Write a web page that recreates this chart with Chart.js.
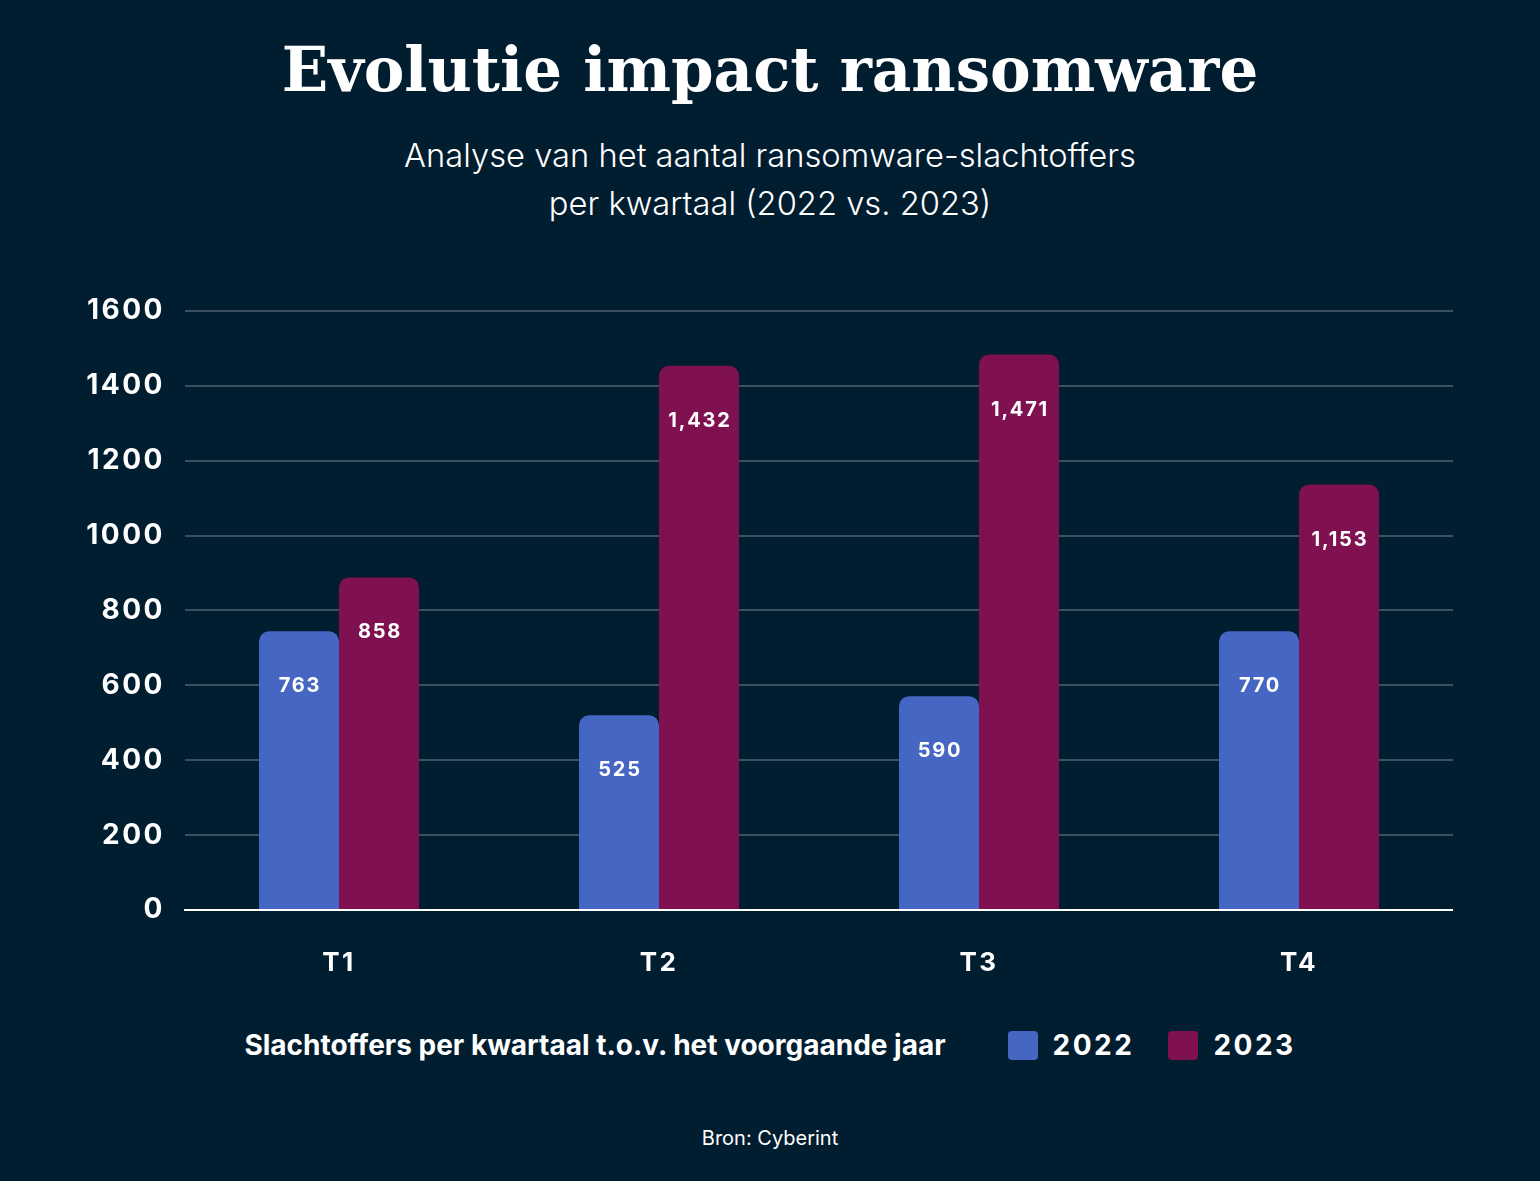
<!DOCTYPE html>
<html>
<head>
<meta charset="utf-8">
<script src="https://cdn.jsdelivr.net/npm/chart.js@4"></script>
<style>
  html, body { margin:0; padding:0; background:#011d30; }
  body { width:1540px; height:1181px; position:relative; overflow:hidden; font-family: Inter, "Noto Sans", sans-serif; color:#fff; }
  #title { position:absolute; left:0; width:1540px; top:25px; text-align:center; font-family:"DejaVu Serif", serif; font-weight:bold; font-size:61px; line-height:90px; }
  #subtitle { position:absolute; left:0; width:1540px; top:131px; text-align:center; font-weight:300; font-size:32.7px; line-height:48px; }
  #chartwrap { position:absolute; left:0; top:280px; width:1540px; height:711px; }
  #legend { position:absolute; left:0; width:1540px; top:1022px; height:46px; display:flex; justify-content:center; align-items:center; }
  #legend .ltitle { font-weight:700; font-size:28px; margin-right:62px; }
  #legend .item { display:flex; align-items:center; margin-right:34px; }
  #legend .item:last-child { margin-right:0; }
  #legend .box { width:30px; height:29px; border-radius:4px; margin-right:15px; }
  #legend .lbl { font-weight:700; font-size:28px; letter-spacing:2.5px; }
  #source { position:absolute; left:0; width:1540px; top:1126px; text-align:center; font-size:20px; line-height:24px; font-weight:400; }
</style>
</head>
<body>
<div id="title"></div>
<div id="subtitle"></div>
<div id="chartwrap"><canvas id="c"></canvas></div>
<div id="legend"></div>
<div id="source"></div>
<script>
// ---- data ----
const titleText = "Evolutie impact ransomware";
const subtitleLines = ["Analyse van het aantal ransomware-slachtoffers", "per kwartaal (2022 vs. 2023)"];
const legendTitle = "Slachtoffers per kwartaal t.o.v. het voorgaande jaar";
const sourceText = "Bron: Cyberint";
const categories = ["T1", "T2", "T3", "T4"];
const seriesNames = ["2022", "2023"];
// bar heights as drawn in the picture
const values2022 = [744, 520, 571, 744];
const values2023 = [888, 1453, 1483, 1136];
// value labels printed on the bars
const labels2022 = ["763", "525", "590", "770"];
const labels2023 = ["858", "1,432", "1,471", "1,153"];
const yTicks = [0, 200, 400, 600, 800, 1000, 1200, 1400, 1600];

const colors = ["#4666c3", "#7f1150"];

document.getElementById('title').textContent = titleText;
document.getElementById('subtitle').innerHTML = subtitleLines.map(s => s.replace(/&/g,'&amp;')).join('<br>');
document.getElementById('source').textContent = sourceText;

// grid lines drawn slightly inset from the category band
const gridPlugin = {
  id: 'insetGrid',
  beforeDatasetsDraw(chart) {
    const ctx = chart.ctx, ys = chart.scales.y, a = chart.chartArea;
    ctx.save();
    ctx.lineWidth = 2;
    ctx.strokeStyle = '#3a5062';
    yTicks.forEach(v => {
      if (v === 0) return;
      const y = Math.round(ys.getPixelForValue(v));
      ctx.beginPath(); ctx.moveTo(a.left + 6, y); ctx.lineTo(a.right - 6, y); ctx.stroke();
    });
    ctx.restore();
  },
  afterDatasetsDraw(chart) {
    const ctx = chart.ctx, ys = chart.scales.y, a = chart.chartArea;
    const y = Math.round(ys.getPixelForValue(0));
    ctx.save();
    ctx.lineWidth = 2;
    ctx.strokeStyle = '#ffffff';
    ctx.beginPath(); ctx.moveTo(a.left + 5, y); ctx.lineTo(a.right - 6, y); ctx.stroke();
    ctx.restore();
  }
};

const barLabelPlugin = {
  id: 'barLabels',
  afterDatasetsDraw(chart) {
    const ctx = chart.ctx;
    const texts = [labels2022, labels2023];
    ctx.save();
    ctx.fillStyle = '#ffffff';
    ctx.font = '700 20px Inter';
    ctx.letterSpacing = '1.8px';
    ctx.textAlign = 'center';
    ctx.textBaseline = 'middle';
    chart.data.datasets.forEach((ds, di) => {
      const meta = chart.getDatasetMeta(di);
      meta.data.forEach((bar, i) => {
        ctx.fillText(texts[di][i], bar.x + 1, bar.y + 55);
      });
    });
    ctx.restore();
  }
};

const spacingPlugin = {
  id: 'spacing',
  beforeLayout(chart) { chart.ctx.letterSpacing = '2.5px'; },
  beforeDraw(chart) { chart.ctx.letterSpacing = '2.5px'; }
};

const chart = new Chart(document.getElementById('c'), {
  type: 'bar',
  data: {
    labels: categories,
    datasets: [
      { label: seriesNames[0], data: values2022, backgroundColor: colors[0],
        borderRadius: {topLeft: 10, topRight: 10}, borderSkipped: 'start',
        barPercentage: 1.0, categoryPercentage: 0.5 },
      { label: seriesNames[1], data: values2023, backgroundColor: colors[1],
        borderRadius: {topLeft: 10, topRight: 10}, borderSkipped: 'start',
        barPercentage: 1.0, categoryPercentage: 0.5 }
    ]
  },
  options: {
    responsive: true,
    maintainAspectRatio: false,
    animation: false,
    devicePixelRatio: 1,
    layout: { padding: { top: 28, right: 81, bottom: 0, left: 0 } },
    plugins: { legend: { display: false }, title: { display: false }, tooltip: { enabled: false } },
    scales: {
      x: {
        grid: { display: false, drawTicks: false },
        border: { display: false },
        ticks: { color: '#ffffff', font: { family: 'Inter', size: 26, weight: '700' }, padding: 38 },
        afterFit(scale) { scale.height = 81; }
      },
      y: {
        min: 0, max: 1600,
        afterBuildTicks(scale) { scale.ticks = yTicks.map(v => ({ value: v })); },
        grid: { display: false, drawTicks: false },
        border: { display: false },
        ticks: { color: '#ffffff', font: { family: 'Inter', size: 28, weight: '700' }, padding: 14,
                 callback: v => String(v) },
        afterFit(scale) { scale.width = 179; }
      }
    }
  },
  plugins: [spacingPlugin, gridPlugin, barLabelPlugin]
});

// legend built from datasets
const lg = document.getElementById('legend');
const t = document.createElement('div'); t.className = 'ltitle'; t.textContent = legendTitle; lg.appendChild(t);
chart.data.datasets.forEach(ds => {
  const it = document.createElement('div'); it.className = 'item';
  const b = document.createElement('div'); b.className = 'box'; b.style.background = ds.backgroundColor;
  const l = document.createElement('div'); l.className = 'lbl'; l.textContent = ds.label;
  it.appendChild(b); it.appendChild(l); lg.appendChild(it);
});
</script>
</body>
</html>
